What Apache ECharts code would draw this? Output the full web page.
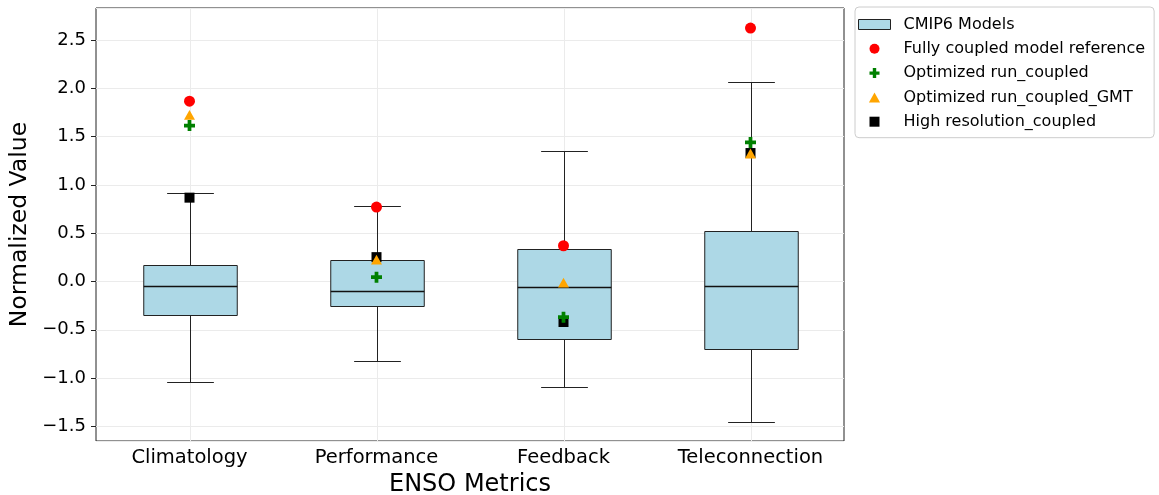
<!DOCTYPE html>
<html>
<head>
<meta charset="utf-8">
<script src="https://cdn.jsdelivr.net/npm/echarts@6/dist/echarts.min.js"></script>
<style>html,body{margin:0;padding:0;background:#fff;}#chart{width:1159px;height:495px;}</style>
</head>
<body>
<div id="chart"></div>
<script>
const categories = ['Climatology', 'Performance', 'Feedback', 'Teleconnection'];
const boxMin = [-1.045, -0.823, -1.089, -1.46];
const boxQ1 = [-0.345, -0.249, -0.591, -0.698];
const boxMedian = [-0.045, -0.097, -0.059, -0.052];
const boxQ3 = [0.173, 0.225, 0.339, 0.526];
const boxMax = [0.92, 0.778, 1.352, 2.07];
const fullyCoupled = [1.867, 0.771, 0.37, 2.624];
const optCoupled = [1.615, 0.045, -0.37, 1.44];
const optGMT = [1.725, 0.226, -0.012, 1.325];
const highRes = [0.868, 0.252, -0.42, 1.33];
const seriesNames = ['CMIP6 Models', 'Fully coupled model reference', 'Optimized run_coupled', 'Optimized run_coupled_GMT', 'High resolution_coupled'];

const FONT = 'DejaVu Sans';
const PLUS = 'path://M3.3,0H6.7V3.3H10V6.7H6.7V10H3.3V6.7H0V3.3H3.3Z';
const TRI = 'path://M5,0L10,9L0,9Z';
const SQR = 'path://M0,0H10V10H0Z';

const boxData = categories.map((c, i) => [i, boxMin[i], boxQ1[i], boxMedian[i], boxQ3[i], boxMax[i]]);
const pts = arr => categories.map((c, i) => [c, arr[i]]);

function fmt(v) {
  const s = Math.abs(v).toFixed(1);
  return v < -1e-9 ? '\u2212' + s : s;
}

function renderBox(params, api) {
  const x = api.value(0);
  const band = api.size([1, 0])[0];
  const hw = band * 0.25, cw = band * 0.125;
  const pMin = api.coord([x, api.value(1)]);
  const pQ1 = api.coord([x, api.value(2)]);
  const pMed = api.coord([x, api.value(3)]);
  const pQ3 = api.coord([x, api.value(4)]);
  const pMax = api.coord([x, api.value(5)]);
  const cs = params.coordSys;
  const cx = Math.round(pMed[0]) + 0.5;
  const line = (x1, y1, x2, y2, color, z2, w) => ({
    type: 'line', shape: {x1: x1, y1: y1, x2: x2, y2: y2}, z2: z2 || 1,
    style: {stroke: color || '#222', lineWidth: w || 1}
  });
  const r = v => Math.round(v) + 0.5;
  return {
    type: 'group',
    children: [
      line(cx, cs.y, cx, cs.y + cs.height, '#ebebeb', 0),
      line(cx, r(pQ1[1]), cx, r(pMin[1])),
      line(cx, r(pQ3[1]), cx, r(pMax[1])),
      line(cx - cw, r(pMin[1]), cx + cw, r(pMin[1])),
      line(cx - cw, r(pMax[1]), cx + cw, r(pMax[1])),
      {type: 'rect', z2: 2, shape: {x: cx - hw, y: r(pQ3[1]), width: hw * 2, height: r(pQ1[1]) - r(pQ3[1])},
        style: {fill: '#ADD8E6', stroke: '#222', lineWidth: 1}},
      line(cx - hw, r(pMed[1]), cx + hw, r(pMed[1]), '#111', 3, 1.3)
    ]
  };
}

const chart = echarts.init(document.getElementById('chart'), null, {renderer: 'canvas'});
chart.setOption({
  animation: false,
  textStyle: {fontFamily: FONT},
  grid: {left: 96, right: 315, top: 8, bottom: 54, show: true, borderColor: '#222', borderWidth: 1,
    containLabel: false, outerBoundsMode: 'none'},
  legend: {
    orient: 'vertical', left: 855, top: 7, padding: [9.5, 9, 8, 3],
    itemWidth: 32, itemHeight: 10, itemGap: 8.3,
    backgroundColor: '#fff', borderColor: '#cccccc', borderWidth: 1, borderRadius: 4,
    selectedMode: false,
    textStyle: {fontFamily: FONT, fontSize: 16, color: '#000', lineHeight: 16, padding: [0, 0, 0, 8]},
    data: [
      {name: seriesNames[0], icon: 'rect', itemStyle: {color: '#ADD8E6', borderColor: '#222', borderWidth: 1}},
      {name: seriesNames[1], icon: 'circle', itemStyle: {color: '#ff0000', borderWidth: 0}},
      {name: seriesNames[2], icon: PLUS, itemStyle: {color: '#008000', borderWidth: 0}},
      {name: seriesNames[3], icon: TRI, itemStyle: {color: '#ffa500', borderWidth: 0}},
      {name: seriesNames[4], icon: SQR, itemStyle: {color: '#000000', borderWidth: 0}}
    ]
  },
  xAxis: {
    type: 'category', data: categories, boundaryGap: true,
    name: 'ENSO Metrics', nameLocation: 'middle', nameGap: 27,
    nameTextStyle: {fontFamily: FONT, fontSize: 24, color: '#000'},
    axisLine: {show: false},
    axisTick: {show: true, interval: 0, alignWithLabel: true, length: 5, lineStyle: {color: '#222'}},
    axisLabel: {fontFamily: FONT, fontSize: 19.5, color: '#000', margin: 7, interval: 0, hideOverlap: false},
    splitLine: {show: false}
  },
  yAxis: {
    type: 'value', min: -1.652, max: 2.832, splitNumber: 9, minInterval: 0.5, maxInterval: 0.5,
    name: 'Normalized Value', nameLocation: 'middle', nameGap: 57, nameRotate: 90,
    nameTextStyle: {fontFamily: FONT, fontSize: 23.5, color: '#000'},
    axisLine: {show: false},
    axisTick: {show: true, length: 5, lineStyle: {color: '#222'}},
    axisLabel: {fontFamily: FONT, fontSize: 18, color: '#000', margin: 10, showMinLabel: false, showMaxLabel: false, formatter: fmt},
    splitLine: {show: true, lineStyle: {color: '#ebebeb', width: 1}}
  },
  series: [
    {name: seriesNames[0], type: 'custom', renderItem: renderBox, data: boxData,
      encode: {x: 0, y: [1, 2, 3, 4, 5]}, itemStyle: {color: '#ADD8E6', borderColor: '#222', borderWidth: 1}, z: 2},
    {name: seriesNames[4], type: 'scatter', data: pts(highRes), symbol: SQR, symbolSize: 10, symbolKeepAspect: true,
      itemStyle: {color: '#000000', opacity: 1}, z: 3},
    {name: seriesNames[1], type: 'scatter', data: pts(fullyCoupled), symbol: 'circle', symbolSize: 11,
      itemStyle: {color: '#ff0000', opacity: 1}, z: 4},
    {name: seriesNames[2], type: 'scatter', data: pts(optCoupled), symbol: PLUS, symbolSize: 11, symbolKeepAspect: true,
      itemStyle: {color: '#008000', opacity: 1}, z: 5},
    {name: seriesNames[3], type: 'scatter', data: pts(optGMT), symbol: TRI, symbolSize: 11, symbolKeepAspect: true,
      itemStyle: {color: '#ffa500', opacity: 1}, z: 6}
  ]
});
</script>
</body>
</html>
